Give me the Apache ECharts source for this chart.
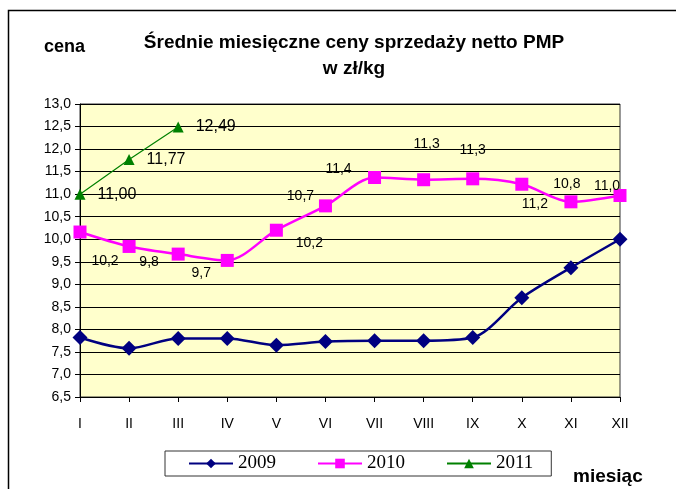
<!DOCTYPE html>
<html>
<head>
<meta charset="utf-8">
<script src="https://cdn.jsdelivr.net/npm/echarts@6/dist/echarts.min.js"></script>
<style>
  html, body { margin: 0; padding: 0; background: #fff; }
  #main { width: 676px; height: 489px; }
</style>
</head>
<body>
<div id="main"></div>
<script>
// miesiace (os X)
var months = ['I', 'II', 'III', 'IV', 'V', 'VI', 'VII', 'VIII', 'IX', 'X', 'XI', 'XII'];
var seriesNames = ['2009', '2010', '2011'];
// ceny w zl/kg
var data2009 = [7.82, 7.58, 7.8, 7.8, 7.65, 7.73, 7.75, 7.75, 7.82, 8.7, 9.37, 10.0];
var data2010 = [10.16, 9.84, 9.67, 9.53, 10.2, 10.74, 11.37, 11.32, 11.34, 11.22, 10.83, 10.97];
var data2011 = [11.0, 11.77, 12.49];
var yMin = 6.5, yMax = 13.0, yStep = 0.5;

// przesuniecia etykiet 2010 (recznie poprzesuwane jak w excelu)
var offs2010 = [[25, 29], [20, 16], [23, 19], null, [33, 13], [-25, -10], [-36, -8], [3, -36], [0, -29], [13, 20], [-4, -18], [-13, -9]];

function comma(v, d) {
  return v.toFixed(d).replace('.', ',');
}

var chart = echarts.init(document.getElementById('main'));

var option = {
  backgroundColor: '#fff',
  animation: false,
  title: {
    text: 'Średnie miesięczne ceny sprzedaży netto PMP\nw zł/kg',
    left: 349,
    top: 25,
    textAlign: 'center',
    textStyle: {
      fontFamily: 'Liberation Sans, Arial',
      fontSize: 19,
      fontWeight: 'bold',
      lineHeight: 26,
      color: '#000'
    }
  },
  graphic: [
    {
      type: 'rect',
      shape: { x: 8.5, y: 10.5, width: 700, height: 500 },
      style: { fill: null, stroke: '#000', lineWidth: 1.5 },
      silent: true,
      z: -1
    },
    {
      type: 'text',
      left: 44,
      top: 38,
      style: { text: 'cena', font: 'bold 18px "Liberation Sans", Arial', fill: '#000' }
    },
    {
      type: 'text',
      left: 573,
      top: 467,
      style: { text: 'miesiąc', font: 'bold 19px "Liberation Sans", Arial', fill: '#000' }
    }
  ],
  legend: {
    data: seriesNames,
    left: 165,
    top: 451,
    padding: [3, 18, 3, 23],
    itemGap: 41,
    itemWidth: 44,
    itemHeight: 12,
    borderColor: '#333',
    borderWidth: 1,
    textStyle: { fontFamily: 'Liberation Serif, Times New Roman', fontSize: 19, color: '#000' }
  },
  grid: {
    left: 80,
    right: 56,
    top: 104,
    bottom: 92,
    show: true,
    backgroundColor: '#FFFFCC',
    borderColor: '#333',
    borderWidth: 1
  },
  xAxis: {
    type: 'category',
    data: months,
    boundaryGap: false,
    axisLine: { lineStyle: { color: '#000', width: 1 } },
    axisTick: { show: true, inside: false, length: 5, lineStyle: { color: '#000' } },
    axisLabel: { fontFamily: 'Liberation Sans, Arial', fontSize: 14, color: '#000', margin: 20, interval: 0 },
    splitLine: { show: false }
  },
  yAxis: {
    type: 'value',
    min: yMin,
    max: yMax,
    interval: yStep,
    axisLine: { show: true, lineStyle: { color: '#000', width: 1 } },
    axisTick: { show: true, length: 5, lineStyle: { color: '#000' } },
    axisLabel: {
      fontFamily: 'Liberation Sans, Arial',
      fontSize: 14,
      color: '#000',
      margin: 9,
      formatter: function (v) { return comma(v, 1); }
    },
    splitLine: { show: true, lineStyle: { color: '#000', width: 1 } }
  },
  series: [
    {
      name: '2009',
      type: 'line',
      data: data2009,
      smooth: 0.3,
      symbol: 'diamond',
      symbolSize: 15,
      itemStyle: { color: '#000080' },
      lineStyle: { color: '#000080', width: 2.5 },
      z: 3
    },
    {
      name: '2010',
      type: 'line',
      data: data2010.map(function (v, i) {
        var o = offs2010[i];
        return {
          value: v,
          label: o ? { show: true, offset: o } : { show: false }
        };
      }),
      smooth: 0.3,
      symbol: 'rect',
      symbolSize: 13,
      itemStyle: { color: '#FF00FF' },
      lineStyle: { color: '#FF00FF', width: 2.5 },
      label: {
        show: true,
        position: 'inside',
        fontFamily: 'Liberation Sans, Arial',
        fontSize: 14,
        color: '#000',
        formatter: function (p) { return comma(p.value, 1); }
      },
      z: 4
    },
    {
      name: '2011',
      type: 'line',
      data: data2011,
      smooth: false,
      symbol: 'triangle',
      symbolSize: 11,
      itemStyle: { color: '#008000' },
      lineStyle: { color: '#008000', width: 1.2 },
      label: {
        show: true,
        position: 'right',
        distance: 12,
        fontFamily: 'Liberation Sans, Arial',
        fontSize: 16,
        color: '#000',
        formatter: function (p) { return comma(p.value, 2); }
      },
      z: 5
    }
  ]
};

chart.setOption(option);
</script>
</body>
</html>
